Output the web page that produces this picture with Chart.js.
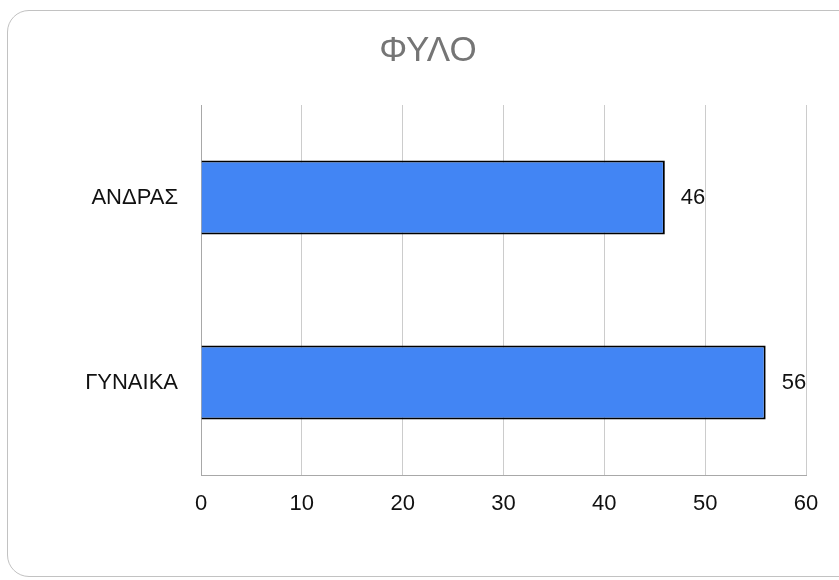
<!DOCTYPE html>
<html>
<head>
<meta charset="utf-8">
<script src="https://cdn.jsdelivr.net/npm/chart.js@4.4.1/dist/chart.umd.min.js"></script>
<style>
  html, body { margin: 0; padding: 0; background: #fff; overflow: hidden; }
  #card {
    position: absolute; left: 7px; top: 10px; width: 900px; height: 567px;
    border: 1px solid #c2c2c2; border-radius: 22px; box-sizing: border-box;
  }
  #wrap { position: absolute; left: 0; top: 0; width: 839px; height: 580px; }
</style>
</head>
<body>
<div id="card"></div>
<div id="wrap"><canvas id="myChart"></canvas></div>
<script>
const categories = ['ΑΝΔΡΑΣ', 'ΓΥΝΑΙΚΑ'];
const values = [46, 56];
const xTicks = [0, 10, 20, 30, 40, 50, 60];

const FONT = '"Liberation Sans", Arial, sans-serif';

// draws the value next to the end of each bar
const valueLabels = {
    id: 'valueLabels',
    afterDatasetsDraw(chart) {
        const ctx = chart.ctx;
        const meta = chart.getDatasetMeta(0);
        ctx.save();
        ctx.font = '22px ' + FONT;
        ctx.fillStyle = '#111111';
        ctx.textAlign = 'left';
        ctx.textBaseline = 'middle';
        meta.data.forEach((bar, i) => {
            ctx.fillText(String(values[i]), bar.x + 16, bar.y);
        });
        ctx.restore();
    }
};

function createChart() {
    const ctx = document.getElementById('myChart');

    new Chart(ctx, {
        type: 'bar',
        data: {
            labels: categories,
            datasets: [{
                label: 'ΦΥΛΟ',
                data: values,
                backgroundColor: '#4285f4',
                borderColor: '#000000',
                borderWidth: 2,
                categoryPercentage: 0.8,
                barPercentage: 0.5
            }]
        },
        options: {
            indexAxis: 'y',
            responsive: true,
            maintainAspectRatio: false,
            animation: false,
            layout: {
                padding: { left: 50, right: 33, top: 0, bottom: 0 }
            },
            plugins: {
                legend: { display: false },
                tooltip: { enabled: false },
                title: {
                    display: true,
                    text: 'ΦΥΛΟ',
                    color: '#757575',
                    font: { family: FONT, size: 35, weight: 'normal', lineHeight: 1.2 },
                    padding: { top: 30, bottom: 33 }
                }
            },
            scales: {
                x: {
                    min: 0,
                    max: 60,
                    afterBuildTicks: (scale) => {
                        scale.ticks = xTicks.map(v => ({ value: v }));
                    },
                    afterFit: (scale) => { scale.height = 105; },
                    grid: { color: '#cccccc', drawTicks: false },
                    border: { color: '#a8a8a8', width: 1 },
                    ticks: {
                        padding: 16,
                        color: '#111111',
                        font: { family: FONT, size: 22 }
                    }
                },
                y: {
                    afterFit: (scale) => { scale.width = 151; },
                    grid: { display: false, drawTicks: false },
                    border: { color: '#a8a8a8', width: 1 },
                    ticks: {
                        padding: 23,
                        color: '#111111',
                        font: { family: FONT, size: 22 }
                    }
                }
            }
        },
        plugins: [valueLabels]
    });
}

createChart();
</script>
</body>
</html>
